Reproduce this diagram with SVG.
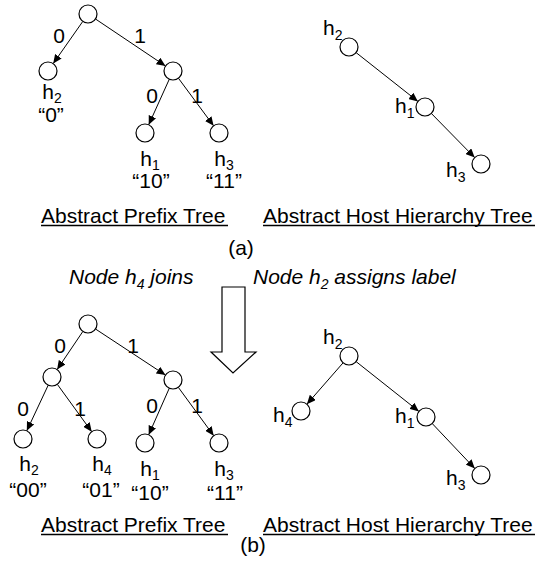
<svg xmlns="http://www.w3.org/2000/svg" width="541" height="573" viewBox="0 0 541 573">
<defs>
<marker id="ah" markerUnits="userSpaceOnUse" markerWidth="10" markerHeight="8" refX="9" refY="4" orient="auto">
<path d="M0,0 L9,4 L0,8 z" fill="#000"/>
</marker>
<style>
text{font-family:"Liberation Sans",Arial,sans-serif;font-size:21px;fill:#000}
.c{text-anchor:middle}
.it{font-style:italic}
.s{font-size:14px}
circle{fill:#fff;stroke:#000;stroke-width:1.2}
.e line{stroke:#000;stroke-width:1;marker-end:url(#ah)}
.u{stroke:#000;stroke-width:1.5}
</style>
</defs>
<rect width="541" height="573" fill="#fff"/>

<g id="connectors" class="e">
<line x1="82.8" y1="21.4" x2="53.2" y2="63.6"/>
<line x1="95.5" y1="19" x2="165.5" y2="66"/>
<line x1="169.3" y1="79.2" x2="148.7" y2="124.8"/>
<line x1="178.4" y1="78.2" x2="213.6" y2="125.8"/>
<line x1="356.1" y1="52.6" x2="417.9" y2="101.4"/>
<line x1="431.3" y1="113.4" x2="474.7" y2="157.6"/>
<line x1="82.9" y1="331.4" x2="57.1" y2="369.6"/>
<line x1="95.5" y1="329" x2="165.5" y2="375.1"/>
<line x1="48.2" y1="385.2" x2="26.8" y2="430.8"/>
<line x1="57.3" y1="384.3" x2="91.7" y2="431.7"/>
<line x1="169.3" y1="388.2" x2="148.7" y2="434.8"/>
<line x1="178.3" y1="387.3" x2="213.7" y2="435.7"/>
<line x1="343.1" y1="362.8" x2="306.9" y2="404.2"/>
<line x1="356.1" y1="361.6" x2="418.9" y2="411.4"/>
<line x1="432.2" y1="423.5" x2="474.8" y2="468.5"/>
</g>

<g id="edge-labels">
<text class="c" x="59" y="43">0</text>
<text class="c" x="140" y="43">1</text>
<text class="c" x="152" y="103">0</text>
<text class="c" x="197" y="103">1</text>
<text class="c" x="60" y="353">0</text>
<text class="c" x="133" y="353">1</text>
<text class="c" x="23" y="416">0</text>
<text class="c" x="80" y="416">1</text>
<text class="c" x="152" y="413">0</text>
<text class="c" x="197" y="413">1</text>
</g>

<g id="a-prefix-root"><circle cx="88" cy="14" r="9"/></g>
<g id="a-prefix-h2"><circle cx="48" cy="71" r="9"/>
<text class="c" x="52" y="99">h<tspan class="s" dy="4">2</tspan></text>
<text class="c" x="51" y="122">“0”</text></g>
<g id="a-prefix-1"><circle cx="173" cy="71" r="9"/></g>
<g id="a-prefix-h1"><circle cx="145" cy="133" r="9"/>
<text class="c" x="150" y="166">h<tspan class="s" dy="4">1</tspan></text>
<text class="c" x="151" y="188">“10”</text></g>
<g id="a-prefix-h3"><circle cx="219" cy="133" r="9"/>
<text class="c" x="224" y="166">h<tspan class="s" dy="4">3</tspan></text>
<text class="c" x="224" y="188">“11”</text></g>

<g id="a-host-h2"><circle cx="349" cy="47" r="9"/>
<text x="323" y="35">h<tspan class="s" dy="5">2</tspan></text></g>
<g id="a-host-h1"><circle cx="425" cy="107" r="9"/>
<text x="395" y="113">h<tspan class="s" dy="5">1</tspan></text></g>
<g id="a-host-h3"><circle cx="481" cy="164" r="9"/>
<text x="446" y="177">h<tspan class="s" dy="5">3</tspan></text></g>

<g id="captions-a">
<text x="41" y="223">Abstract Prefix Tree</text>
<line class="u" x1="41" y1="225.5" x2="228" y2="225.5"/>
<text x="263" y="223">Abstract Host Hierarchy Tree</text>
<line class="u" x1="263" y1="225.5" x2="535" y2="225.5"/>
<text class="c" x="241" y="255">(a)</text>
</g>

<g id="transition">
<text class="it" x="69" y="284">Node h<tspan class="s" dy="5">4</tspan><tspan dy="-5"> joins</tspan></text>
<text class="it" x="253" y="284">Node h<tspan class="s" dy="5">2</tspan><tspan dy="-5"> assigns label</tspan></text>
<polygon points="222,287 245,287 245,352 256,352 233,373 211,352 222,352" fill="#fff" stroke="#000" stroke-width="1.2"/>
</g>

<g id="b-prefix-root"><circle cx="88" cy="324" r="9"/></g>
<g id="b-prefix-0"><circle cx="52" cy="377" r="9"/></g>
<g id="b-prefix-1"><circle cx="173" cy="380" r="9"/></g>
<g id="b-prefix-h2"><circle cx="23" cy="439" r="9"/>
<text class="c" x="29" y="471">h<tspan class="s" dy="4">2</tspan></text>
<text class="c" x="28" y="497">“00”</text></g>
<g id="b-prefix-h4"><circle cx="97" cy="439" r="9"/>
<text class="c" x="102" y="471">h<tspan class="s" dy="4">4</tspan></text>
<text class="c" x="101" y="497">“01”</text></g>
<g id="b-prefix-h1"><circle cx="145" cy="443" r="9"/>
<text class="c" x="150" y="476">h<tspan class="s" dy="4">1</tspan></text>
<text class="c" x="150" y="500">“10”</text></g>
<g id="b-prefix-h3"><circle cx="219" cy="443" r="9"/>
<text class="c" x="224" y="476">h<tspan class="s" dy="4">3</tspan></text>
<text class="c" x="225" y="500">“11”</text></g>

<g id="b-host-h2"><circle cx="349" cy="356" r="9"/>
<text x="323" y="344">h<tspan class="s" dy="5">2</tspan></text></g>
<g id="b-host-h4"><circle cx="301" cy="411" r="9"/>
<text x="273" y="422">h<tspan class="s" dy="5">4</tspan></text></g>
<g id="b-host-h1"><circle cx="426" cy="417" r="9"/>
<text x="395" y="423">h<tspan class="s" dy="5">1</tspan></text></g>
<g id="b-host-h3"><circle cx="481" cy="475" r="9"/>
<text x="446" y="485">h<tspan class="s" dy="5">3</tspan></text></g>

<g id="captions-b">
<text x="41" y="532">Abstract Prefix Tree</text>
<line class="u" x1="41" y1="534.5" x2="228" y2="534.5"/>
<text x="263" y="532">Abstract Host Hierarchy Tree</text>
<line class="u" x1="263" y1="534.5" x2="535" y2="534.5"/>
<text class="c" x="253" y="552">(b)</text>
</g>
</svg>
